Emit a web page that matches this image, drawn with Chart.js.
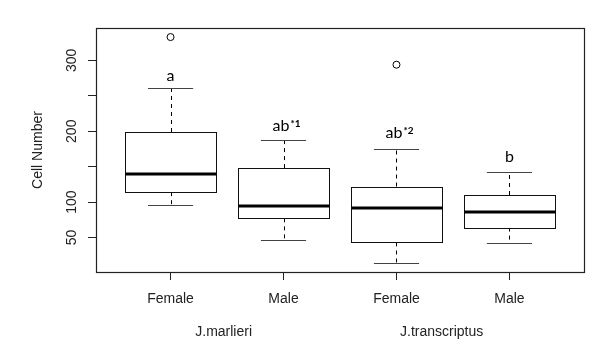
<!DOCTYPE html>
<html>
<head>
<meta charset="utf-8">
<script src="https://cdn.jsdelivr.net/npm/chart.js@4/dist/chart.umd.min.js"></script>
<style>
  html, body { margin: 0; padding: 0; background: #fff; }
  #wrap { width: 600px; height: 353px; position: relative; }
</style>
</head>
<body>
<div id="wrap"><canvas id="boxChart"></canvas></div>
<script>
// boxes, left to right
const categories = ["Female", "Male", "Female", "Male"];
const lowerWhisker = [96, 47, 14, 42];
const q1 = [114, 77, 43, 64];
const median = [140, 95, 92, 86];
const q3 = [199, 148, 122, 110];
const upperWhisker = [261, 187, 175, 143];

// outliers
const outlierX = [1, 3];
const outlierY = [333, 294];

// letters above the whiskers
const letters = ["a", "ab", "ab", "b"];
const letterSup = ["", "*1", "*2", ""];
const letterY = [271, 201, 190, 157];

// species labels under the axis
const groups = ["J.marlieri", "J.transcriptus"];
const groupPos = [1.47, 3.4];

const yTicks = [50, 100, 150, 200, 250, 300];
const yTickLabels = ["50", "100", "", "200", "", "300"];

const tickFont = "14px 'Liberation Sans', Arial, sans-serif";
const letterFont = "16px Lato, 'Open Sans', sans-serif";
const supFont = "bold 10px Lato, 'Open Sans', sans-serif";

const boxPlugin = {
  id: "boxes",
  beforeDatasetsDraw(chart) {
    const ctx = chart.ctx;
    const x = chart.scales.x;
    const y = chart.scales.y;
    const px = v => Math.round(v) + 0.5;
    ctx.save();
    for (let i = 0; i < categories.length; i++) {
      const c = i + 1;
      const xl = x.getPixelForValue(c - 0.4);
      const xr = x.getPixelForValue(c + 0.4);
      const xc = px(x.getPixelForValue(c));
      const cl = x.getPixelForValue(c - 0.2);
      const cr = x.getPixelForValue(c + 0.2);

      // dashed whiskers
      ctx.strokeStyle = "#000";
      ctx.lineWidth = 1;
      ctx.setLineDash([4, 4]);
      ctx.beginPath();
      ctx.moveTo(xc, y.getPixelForValue(q3[i]));
      ctx.lineTo(xc, y.getPixelForValue(upperWhisker[i]));
      ctx.moveTo(xc, y.getPixelForValue(q1[i]));
      ctx.lineTo(xc, y.getPixelForValue(lowerWhisker[i]));
      ctx.stroke();
      ctx.setLineDash([]);

      // caps
      ctx.strokeStyle = "#444";
      ctx.beginPath();
      ctx.moveTo(cl, px(y.getPixelForValue(upperWhisker[i])));
      ctx.lineTo(cr, px(y.getPixelForValue(upperWhisker[i])));
      ctx.moveTo(cl, px(y.getPixelForValue(lowerWhisker[i])));
      ctx.lineTo(cr, px(y.getPixelForValue(lowerWhisker[i])));
      ctx.stroke();

      // box
      const yt = px(y.getPixelForValue(q3[i]));
      const yb = px(y.getPixelForValue(q1[i]));
      ctx.fillStyle = "#fff";
      ctx.fillRect(px(xl), yt, px(xr) - px(xl), yb - yt);
      ctx.strokeStyle = "#111";
      ctx.strokeRect(px(xl), yt, px(xr) - px(xl), yb - yt);

      // median
      ctx.lineWidth = 3;
      ctx.strokeStyle = "#000";
      ctx.beginPath();
      const ym = Math.round(y.getPixelForValue(median[i]));
      ctx.moveTo(px(xl), ym);
      ctx.lineTo(px(xr), ym);
      ctx.stroke();

      // letters
      ctx.fillStyle = "#000";
      ctx.font = letterFont;
      const mainW = ctx.measureText(letters[i]).width;
      ctx.font = supFont;
      const supW = letterSup[i] ? ctx.measureText(letterSup[i]).width + 1 : 0;
      const off = letterSup[i] ? 3 : 0;
      const start = x.getPixelForValue(c) + off - (mainW + supW) / 2;
      const base = y.getPixelForValue(letterY[i]);
      ctx.textAlign = "left";
      ctx.textBaseline = "alphabetic";
      ctx.font = letterFont;
      ctx.fillText(letters[i], start, base);
      if (letterSup[i]) {
        ctx.font = supFont;
        ctx.fillText(letterSup[i], start + mainW + 1, base - 4);
      }
    }
    ctx.restore();
  },
  afterDraw(chart) {
    const ctx = chart.ctx;
    const a = chart.chartArea;
    const x = chart.scales.x;
    const y = chart.scales.y;
    ctx.save();
    // frame around the plot
    ctx.strokeStyle = "#222";
    ctx.lineWidth = 1.2;
    ctx.strokeRect(Math.round(a.left) + 0.5, Math.round(a.top) + 0.5,
      Math.round(a.right - a.left), Math.round(a.bottom - a.top));

    // rotated y tick labels
    ctx.fillStyle = "#222";
    ctx.font = tickFont;
    ctx.textAlign = "center";
    ctx.textBaseline = "middle";
    y.ticks.forEach(t => {
      const lab = yTickLabels[yTicks.indexOf(t.value)];
      if (!lab) return;
      ctx.save();
      ctx.translate(72, y.getPixelForValue(t.value));
      ctx.rotate(-Math.PI / 2);
      ctx.fillText(lab, 0, 0);
      ctx.restore();
    });

    // species labels
    groups.forEach((g, i) => {
      ctx.fillText(g, x.getPixelForValue(groupPos[i]), 332);
    });
    ctx.restore();
  }
};

new Chart(document.getElementById("boxChart"), {
  type: "scatter",
  data: {
    datasets: [{
      label: "outliers",
      data: outlierX.map((v, i) => ({ x: v, y: outlierY[i] })),
      pointStyle: "circle",
      pointRadius: 3.5,
      pointHoverRadius: 3.5,
      borderColor: "#000",
      backgroundColor: "rgba(0,0,0,0)",
      borderWidth: 1
    }]
  },
  options: {
    responsive: true,
    maintainAspectRatio: false,
    animation: false,
    layout: { padding: { left: 0, top: 28, right: 16, bottom: 0 } },
    plugins: {
      legend: { display: false },
      tooltip: { enabled: false }
    },
    scales: {
      x: {
        type: "linear",
        min: 0.34,
        max: 4.66,
        afterBuildTicks: s => { s.ticks = categories.map((c, i) => ({ value: i + 1 })); },
        afterFit: s => { s.height = 81; },
        ticks: {
          callback: v => categories[v - 1] || "",
          color: "#222",
          font: { family: "'Liberation Sans', Arial, sans-serif", size: 14 },
          padding: 11,
          maxRotation: 0
        },
        grid: { drawOnChartArea: false, drawTicks: true, tickLength: 8, color: "#222" },
        border: { display: true, color: "#222" }
      },
      y: {
        min: 1.3,
        max: 345.8,
        afterBuildTicks: s => { s.ticks = yTicks.map(v => ({ value: v })); },
        afterFit: s => { s.width = 96; },
        ticks: { display: false },
        grid: { drawOnChartArea: false, drawTicks: true, tickLength: 8, color: "#222" },
        border: { display: true, color: "#222" },
        title: {
          display: true,
          text: "Cell Number",
          color: "#222",
          font: { family: "'Liberation Sans', Arial, sans-serif", size: 14 },
          padding: { top: 30, bottom: 0 }
        }
      }
    }
  },
  plugins: [boxPlugin]
});
</script>
</body>
</html>
